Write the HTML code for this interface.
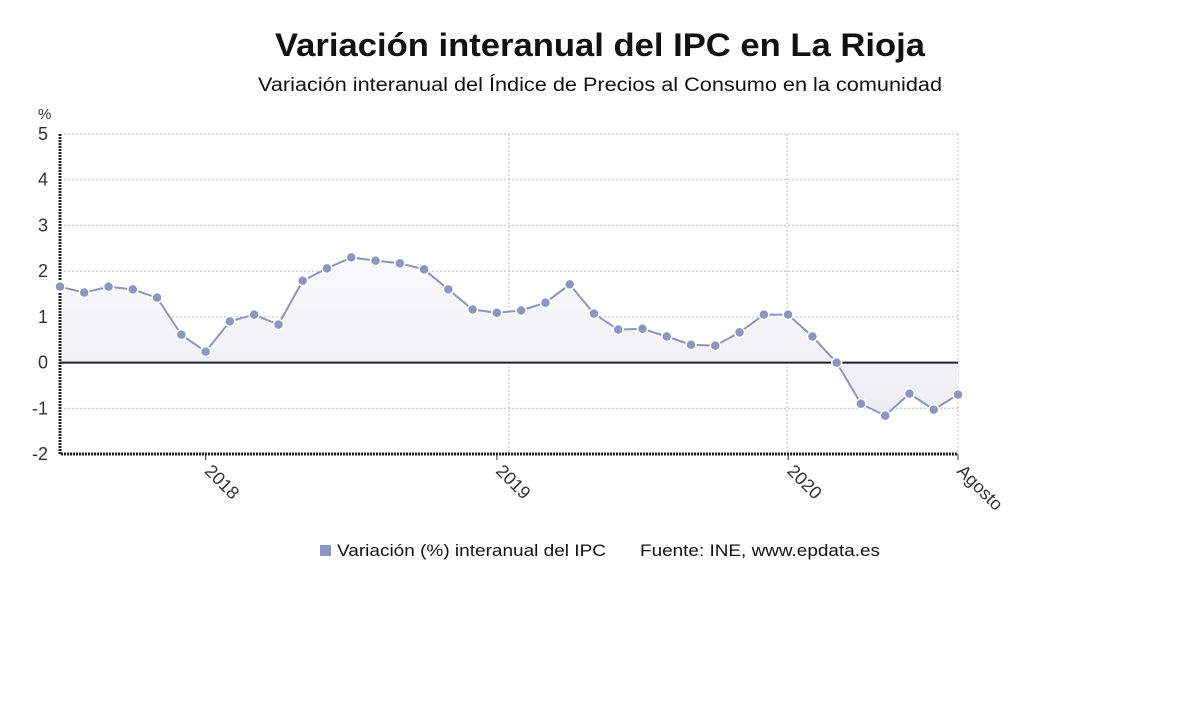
<!DOCTYPE html>
<html><head><meta charset="utf-8"><style>
body{margin:0;width:1200px;height:705px;background:#fff;font-family:"Liberation Sans",sans-serif;overflow:hidden}
</style></head><body>
<svg width="1200" height="705">
<defs><linearGradient id="g" x1="0" y1="0" x2="0" y2="1"><stop offset="0" stop-color="#fafafc"/><stop offset="1" stop-color="#ececf3"/></linearGradient></defs>
<text x="275" y="56" textLength="650" lengthAdjust="spacingAndGlyphs" font-size="32" font-weight="bold" fill="#111">Variación interanual del IPC en La Rioja</text>
<text x="258" y="91" textLength="684" lengthAdjust="spacingAndGlyphs" font-size="19" fill="#111">Variación interanual del Índice de Precios al Consumo en la comunidad</text>
<text x="38" y="119" font-size="15" fill="#333">%</text>
<g id="grid"></g><g id="plot"></g>
<g>
<rect x="320" y="545" width="11" height="11" fill="#8f95bd"/>
<text x="337" y="556" textLength="269" lengthAdjust="spacingAndGlyphs" font-size="17" fill="#111">Variación (%) interanual del IPC</text>
<text x="640" y="556" textLength="240" lengthAdjust="spacingAndGlyphs" font-size="17" fill="#111">Fuente: INE, www.epdata.es</text>
</g>
</svg>
<script>
const values=[1.66,1.53,1.66,1.6,1.42,0.61,0.24,0.9,1.05,0.83,1.79,2.06,2.3,2.23,2.17,2.04,1.6,1.16,1.09,1.14,1.31,1.71,1.07,0.72,0.74,0.57,0.39,0.37,0.66,1.05,1.05,0.57,0,-0.9,-1.16,-0.68,-1.03,-0.7];
const yTicks=[5,4,3,2,1,0,-1,-2];
const xLabels=[[6,"2018"],[18,"2019"],[30,"2020"],[37,"Agosto"]];
const X0=60,X1=958,Y5=134,Y_2=454;
const x=i=>X0+(X1-X0)*i/(values.length-1);
const y=v=>Y5+(5-v)*(Y_2-Y5)/7;
const NS="http://www.w3.org/2000/svg";
function mk(p,t,a){const e=document.createElementNS(NS,t);for(const k in a)e.setAttribute(k,a[k]);p.appendChild(e);return e;}
const grid=document.getElementById('grid'),plot=document.getElementById('plot');
yTicks.forEach(v=>{
  const l=mk(grid,'line',{x1:X0,x2:X1,y1:y(v),y2:y(v),stroke:'#bbb','stroke-dasharray':'2,2'});
  
  
  const t=mk(grid,'text',{x:X0-12,y:y(v)+6,'text-anchor':'end','font-size':18,fill:'#333'});
  t.textContent=v;
  
  
});
[509,787,958].forEach(gx=>{
  const l=mk(grid,'line',{x1:gx,x2:gx,y1:Y5,y2:Y_2,stroke:'#bbb','stroke-dasharray':'2,2'});
  
  
});
xLabels.forEach(([i,s])=>{
  const tk=mk(grid,'line',{x1:x(i),x2:x(i),y1:Y_2,y2:Y_2+6,stroke:'#333'});
  
  
  const t=mk(grid,'text',{x:x(i)-2,y:Y_2+18,'font-size':18,fill:'#333',transform:`rotate(45 ${x(i)-2} ${Y_2+18})`});
  t.textContent=s;
  
  
});
let d=`M${x(0)},${y(0)}`;values.forEach((v,i)=>d+=`L${x(i)},${y(v)}`);d+=`L${x(values.length-1)},${y(0)}Z`;
const area=mk(plot,'path',{d,fill:'url(#g)'});


const zl=mk(plot,'line',{x1:X0,x2:X1,y1:y(0),y2:y(0),stroke:'#222','stroke-width':2});


const ax=mk(plot,'path',{d:`M${X0},${Y5}V${Y_2}H${X1}`,fill:'none',stroke:'#222','stroke-width':3,'stroke-dasharray':'2,1'});


const line=mk(plot,'polyline',{points:values.map((v,i)=>x(i)+','+y(v)).join(' '),fill:'none',stroke:'#8f95bd','stroke-width':2});


values.forEach((v,i)=>{
  const c=mk(plot,'circle',{cx:x(i),cy:y(v),r:5,fill:'#8f95bd',stroke:'#fff','stroke-width':1.5});
  
  
});
</script>
</body></html>
